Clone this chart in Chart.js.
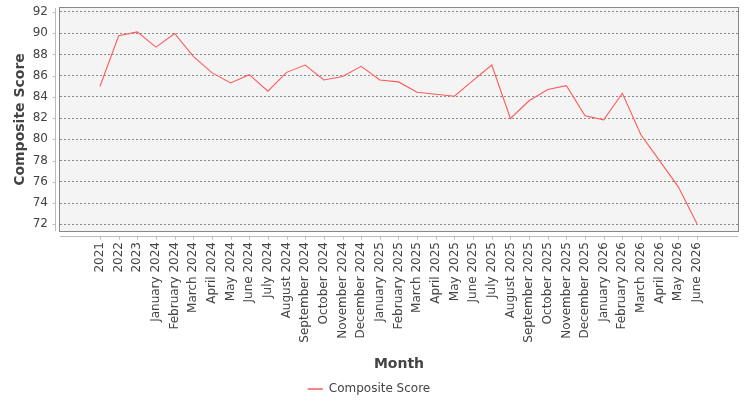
<!DOCTYPE html>
<html>
<head>
<meta charset="utf-8">
<script src="https://cdn.jsdelivr.net/npm/chart.js@4/dist/chart.umd.min.js"></script>
<style>
  html, body { margin: 0; padding: 0; background: #fff; }
  #wrap { width: 750px; height: 400px; }
</style>
</head>
<body>
<div id="wrap"><canvas id="chart"></canvas></div>
<script>
const months = [
  "2021", "2022", "2023",
  "January 2024", "February 2024", "March 2024", "April 2024", "May 2024", "June 2024",
  "July 2024", "August 2024", "September 2024", "October 2024", "November 2024", "December 2024",
  "January 2025", "February 2025", "March 2025", "April 2025", "May 2025", "June 2025",
  "July 2025", "August 2025", "September 2025", "October 2025", "November 2025", "December 2025",
  "January 2026", "February 2026", "March 2026", "April 2026", "May 2026", "June 2026"
];
const scores = [
  85.0, 89.75, 90.12,
  88.69, 89.97, 87.81, 86.28, 85.31, 86.09,
  84.53, 86.31, 87.0, 85.59, 85.91, 86.88,
  85.59, 85.41, 84.44, 84.25, 84.06, 85.55,
  87.0, 81.97, 83.63, 84.69, 85.06, 82.22,
  81.84, 84.34, 80.41, 77.97, 75.53, 72.06
];
const yTicks = [72, 74, 76, 78, 80, 82, 84, 86, 88, 90, 92];

const seriesName = "Composite Score";
const lineColor = "#ff5a5a";
const textColor = "#444";

// plot background, border and offset axis lines (JFreeChart look)
const plotFrame = {
  id: "plotFrame",
  beforeDraw(chart) {
    const { ctx, chartArea: a } = chart;
    ctx.save();
    ctx.fillStyle = "#f4f4f4";
    ctx.fillRect(a.left, a.top, a.right - a.left, a.bottom - a.top);
    ctx.restore();
  },
  afterDraw(chart) {
    const { ctx, chartArea: a, scales } = chart;
    ctx.save();
    ctx.lineWidth = 1;
    ctx.strokeStyle = "#888";
    ctx.strokeRect(a.left - 0.5, a.top - 0.5, a.right - a.left + 1, a.bottom - a.top + 1);

    ctx.strokeStyle = "#bbb";
    ctx.beginPath();
    // y axis line + ticks
    ctx.moveTo(a.left - 4.5, a.top);
    ctx.lineTo(a.left - 4.5, a.bottom);
    yTicks.forEach((v) => {
      const y = Math.round(scales.y.getPixelForValue(v)) + 0.5;
      ctx.moveTo(a.left - 4.5, y);
      ctx.lineTo(a.left - 7.5, y);
    });
    // x axis line + ticks
    ctx.moveTo(a.left, a.bottom + 5.5);
    ctx.lineTo(a.right, a.bottom + 5.5);
    months.forEach((m, i) => {
      const x = Math.round(scales.x.getPixelForValue(i)) + 0.5;
      ctx.moveTo(x, a.bottom + 5.5);
      ctx.lineTo(x, a.bottom + 8.5);
    });
    ctx.stroke();
    ctx.restore();
  }
};

new Chart(document.getElementById("chart"), {
  type: "line",
  data: {
    datasets: [
      {
        label: seriesName,
        data: scores.map((v, i) => ({ x: i, y: v })),
        borderColor: lineColor,
        backgroundColor: lineColor,
        borderWidth: 1.1,
        pointRadius: 0,
        tension: 0,
        fill: false,
      },
    ],
  },
  options: {
    responsive: true,
    maintainAspectRatio: false,
    animation: false,
    layout: { padding: { top: 8, right: 12, left: 0, bottom: -5 } },
    plugins: {
      tooltip: { enabled: false },
      legend: {
        position: "bottom",
        labels: {
          color: textColor,
          font: { family: "DejaVu Sans", size: 12 },
          boxWidth: 15,
          boxHeight: 0,
          padding: 3,
          generateLabels: () => [
            {
              text: seriesName,
              strokeStyle: lineColor,
              fillStyle: lineColor,
              lineWidth: 1,
              fontColor: textColor,
              datasetIndex: 0,
            },
          ],
        },
      },
    },
    scales: {
      x: {
        type: "linear",
        min: -2.144,
        max: 34.198,
        afterBuildTicks: (scale) => {
          scale.ticks = months.map((m, i) => ({ value: i }));
        },
        afterFit: (scale) => {
          scale.height = 149;
        },
        grid: { display: false, drawTicks: false },
        border: { display: false },
        ticks: {
          autoSkip: false,
          minRotation: 90,
          maxRotation: 90,
          padding: 11,
          color: textColor,
          font: { family: "DejaVu Sans", size: 12 },
          callback: (v) => months[v],
        },
        title: {
          display: true,
          text: "Month",
          color: textColor,
          font: { family: "DejaVu Sans", size: 14, weight: "bold" },
          padding: { top: 0, bottom: 7 },
        },
      },
      y: {
        min: 71.37,
        max: 92.37,
        afterBuildTicks: (scale) => {
          scale.ticks = yTicks.map((v) => ({ value: v }));
        },
        afterFit: (scale) => {
          scale.width = 60;
        },
        grid: {
          color: "#8a8a8a",
          lineWidth: 1,
          drawTicks: true,
          tickLength: 12,
          tickColor: "rgba(0,0,0,0)",
        },
        border: { display: false, dash: [2, 2] },
        ticks: {
          padding: 0,
          color: textColor,
          font: { family: "DejaVu Sans", size: 12 },
        },
        title: {
          display: true,
          text: "Composite Score",
          color: textColor,
          font: { family: "DejaVu Sans", size: 14, weight: "bold" },
          padding: { top: 12, bottom: 0 },
        },
      },
    },
  },
  plugins: [plotFrame],
});
</script>
</body>
</html>
